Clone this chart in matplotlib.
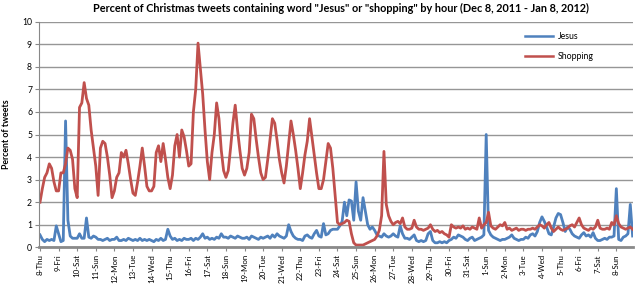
import numpy as np
import matplotlib
matplotlib.use("Agg")
import matplotlib.pyplot as plt

# percent of tweets, one value every 3 hours (8 per day), Dec 8 2011 .. Jan 8 2012
jesus = [
    0.55, 0.35, 0.25, 0.35, 0.3, 0.35, 0.3, 0.95,
    0.6, 0.25, 0.3, 5.6, 1.2, 0.5, 0.4, 0.4,
    0.4, 0.6, 0.4, 0.4, 1.3, 0.45, 0.4, 0.5,
    0.45, 0.35, 0.35, 0.3, 0.35, 0.4, 0.3, 0.35,
    0.35, 0.45, 0.3, 0.3, 0.35, 0.3, 0.4, 0.35,
    0.3, 0.35, 0.3, 0.4, 0.3, 0.35, 0.3, 0.35,
    0.3, 0.25, 0.35, 0.3, 0.4, 0.3, 0.35, 0.8,
    0.5, 0.35, 0.4, 0.3, 0.35, 0.3, 0.4, 0.35,
    0.35, 0.4, 0.3, 0.4, 0.35, 0.45, 0.6, 0.4,
    0.45, 0.35, 0.4, 0.35, 0.45, 0.4, 0.6, 0.45,
    0.45, 0.4, 0.5, 0.45, 0.4, 0.5, 0.45, 0.4,
    0.4, 0.45, 0.35, 0.5, 0.45, 0.4, 0.35, 0.45,
    0.4, 0.45, 0.5, 0.4, 0.55, 0.45, 0.6, 0.5,
    0.45, 0.4, 0.5, 1.0, 0.7, 0.5, 0.4, 0.35,
    0.35, 0.3, 0.5, 0.55, 0.45, 0.4, 0.6, 0.75,
    0.5, 0.45, 1.05, 0.55, 0.6, 0.75, 0.8, 0.8,
    0.8, 0.95, 1.15, 2.0, 1.4, 2.1, 2.05, 1.2,
    2.9, 1.6, 1.2, 2.2, 1.6, 1.0, 0.8, 0.9,
    0.75, 0.55, 0.5, 0.45, 0.6, 0.5, 0.45, 0.5,
    0.6, 0.5, 0.45, 0.95, 0.6, 0.4, 0.4, 0.35,
    0.45, 0.55, 0.3, 0.25, 0.3, 0.25, 0.3, 0.6,
    0.7, 0.3, 0.2, 0.2, 0.25, 0.2, 0.25, 0.2,
    0.3, 0.35, 0.45, 0.4, 0.55, 0.5, 0.45, 0.35,
    0.3, 0.4, 0.45, 0.3, 0.35, 0.4, 0.45, 0.55,
    5.0, 0.75, 0.55, 0.45, 0.4, 0.35, 0.3, 0.35,
    0.35, 0.4, 0.45, 0.55, 0.4, 0.35, 0.3, 0.35,
    0.35, 0.45, 0.4, 0.55, 0.6, 0.5, 0.7, 1.1,
    1.35, 1.15, 0.9, 0.6, 0.55, 0.9, 1.3, 1.5,
    1.45, 1.1, 0.7, 0.9, 0.8, 0.6, 0.5, 0.45,
    0.4, 0.55, 0.65, 0.5, 0.55, 0.45, 0.65, 0.4,
    0.3, 0.3, 0.35, 0.4, 0.35, 0.45, 0.45, 0.5,
    2.6, 0.35, 0.3, 0.45, 0.5, 0.6, 1.9, 0.5,
]

shopping = [
    2.0, 2.6, 3.1, 3.3, 3.7, 3.5, 2.9, 2.5,
    2.5, 3.3, 3.3, 3.7, 4.4, 4.3, 3.9, 2.6,
    2.2, 6.2, 6.4, 7.3, 6.6, 6.3, 5.2, 4.4,
    3.6, 2.3, 4.4, 4.7, 4.6, 4.0, 3.2, 2.2,
    2.5, 3.1, 3.3, 4.2, 4.0, 4.3, 3.7, 3.0,
    2.4, 2.3, 2.9, 3.6, 4.4, 3.6, 2.7, 2.5,
    2.5, 2.7, 4.2, 4.5, 3.8, 4.6, 3.9, 3.1,
    2.6, 3.2, 4.5, 5.0, 4.0, 5.2, 4.9, 4.3,
    3.6, 3.7, 6.0, 7.0, 9.05, 7.9, 6.8, 5.2,
    3.8, 3.0, 4.2, 5.0, 6.4, 5.7, 4.3, 3.4,
    3.1, 3.4, 4.4, 5.5, 6.3, 5.2, 4.3, 3.5,
    3.2, 3.5, 4.2, 5.9, 5.7, 4.8, 4.0, 3.3,
    3.0, 3.1, 3.9, 4.8, 5.7, 5.5, 4.75, 3.9,
    3.3, 2.85, 3.6, 4.6, 5.6, 5.0, 4.3, 3.5,
    2.6, 3.3, 4.1, 4.7, 5.7, 4.9, 4.1, 3.3,
    2.6, 2.6, 3.0, 3.8, 4.6, 4.4, 3.5, 2.3,
    1.1, 1.0, 1.05, 1.1, 1.2, 1.15, 0.6, 0.2,
    0.1, 0.1, 0.1, 0.1, 0.15, 0.2, 0.25, 0.3,
    0.35, 0.5, 0.75, 1.4, 4.25, 1.9, 1.4, 1.15,
    1.0, 1.1, 1.15, 1.05, 1.3, 0.9, 0.8, 0.8,
    0.85, 1.2, 0.9, 0.8, 0.8, 0.75, 0.8, 0.85,
    1.0, 0.8, 0.7, 0.75, 0.65, 0.7, 0.6, 0.55,
    0.45, 1.0, 0.9, 0.85, 0.9, 0.85, 0.95, 0.8,
    0.85, 0.8, 0.9, 0.85, 0.8, 1.3, 0.85, 1.0,
    1.1, 1.55, 0.95, 0.85, 0.8, 0.9, 1.0, 0.95,
    1.1, 0.8, 0.85, 0.75, 0.8, 0.85, 0.75, 0.8,
    0.8, 0.75, 0.8, 0.8, 0.85, 0.8, 0.9, 1.0,
    0.95, 0.85, 1.0, 1.1, 0.85, 0.7, 0.8, 0.9,
    0.8, 0.75, 0.8, 0.85, 0.95, 1.0, 0.9, 1.1,
    1.3, 1.0, 0.85, 0.8, 0.75, 0.85, 0.8, 0.9,
    1.2, 0.85, 0.8, 0.8, 0.85, 0.8, 1.1, 1.0,
    1.4, 1.05, 0.9, 0.85, 0.8, 0.85, 0.9, 0.8,
]

day_labels = ["8-Thu", "9-Fri", "10-Sat", "11-Sun", "12-Mon", "13-Tue", "14-Wed",
              "15-Thu", "16-Fri", "17-Sat", "18-Sun", "19-Mon", "20-Tue", "21-Wed",
              "22-Thu", "23-Fri", "24-Sat", "25-Sun", "26-Mon", "27-Tue", "28-Wed",
              "29-Thu", "30-Fri", "31-Sat", "1-Sun", "2-Mon", "3-Tue", "4-Wed",
              "5-Thu", "6-Fri", "7-Sat", "8-Sun"]

plt.rcParams['font.family'] = ['Lato', 'DejaVu Sans']

hours = np.arange(len(jesus)) * 3

fig = plt.figure(figsize=(6.4, 2.85), dpi=100)
ax = fig.add_axes([39/640, 37.7/285, 594/640, 225.6/285])

ax.plot(hours, jesus, color='#4F81BD', lw=2.0, label='Jesus')
ax.plot(hours, shopping, color='#C0504D', lw=2.0, label='Shopping')

ax.set_ylim(0, 10)
ax.set_xlim(-1.3, 765.5)
ax.set_yticks(range(0, 11))
ax.set_xticks(np.arange(len(day_labels)) * 24)
ax.set_xticklabels(day_labels, rotation=90, fontsize=5.7)
ax.tick_params(axis='y', labelsize=6.2, length=3, color='#888888', pad=2)
ax.tick_params(axis='x', length=3, color='#888888', pad=2)

ax.grid(axis='y', color='#969696', lw=1.0)
ax.set_axisbelow(True)
for s in ['top', 'right']:
    ax.spines[s].set_visible(False)
ax.spines['left'].set_color('#888888')
ax.spines['left'].set_linewidth(0.8)
ax.spines['bottom'].set_color('#8a8a8a')
ax.spines['bottom'].set_linewidth(2.0)

ax.set_ylabel("Percent of tweets", fontsize=6.3, fontweight='bold', labelpad=8)
fig.suptitle('Percent of Christmas tweets containing word "Jesus" or "shopping" by hour (Dec 8, 2011 - Jan 8, 2012)',
             fontsize=7.8, fontweight='bold', x=0.532, y=0.988)

leg = ax.legend(loc='upper left', bbox_to_anchor=(0.805, 0.99), frameon=False,
                fontsize=6.3, handlelength=3.2, handletextpad=0.5, labelspacing=1.3)
for line in leg.get_lines():
    line.set_linewidth(1.8)

fig.savefig("out.png", dpi=100)
